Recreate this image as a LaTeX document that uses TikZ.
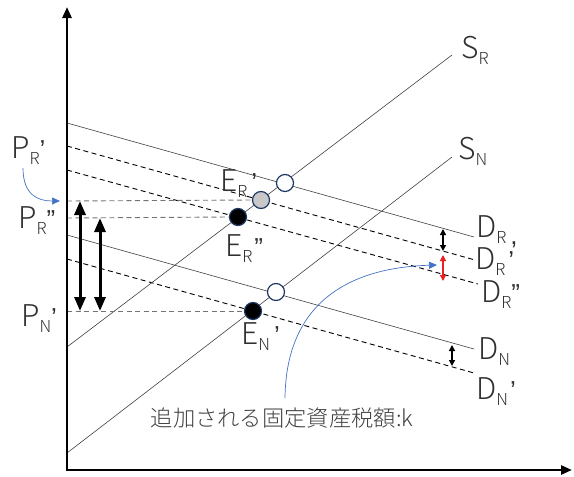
\documentclass[tikz,border=0pt]{standalone}
\usepackage{fontspec}
\usetikzlibrary{arrows.meta}
\IfFontExistsTF{Noto Sans CJK JP Light}{\setmainfont{Noto Sans CJK JP Light}}{\setmainfont{Noto Sans CJK JP}}
\newfontfamily\pf{Liberation Sans}
\definecolor{txt}{HTML}{303030}
\definecolor{navy}{HTML}{1F3864}
\definecolor{blueA}{HTML}{4472C4}
\definecolor{greyfill}{HTML}{C8C8C8}
\definecolor{redA}{HTML}{E82020}
\newcommand\lab[3]{#1\raisebox{-6.5pt}[0pt][0pt]{\fontsize{16.5}{16.5}\selectfont #2}{\pf\fontsize{26}{26}\selectfont #3}}
\tikzset{
  thinline/.style={line width=0.6pt, black!75},
  dline/.style={line width=0.9pt, black, dash pattern=on 5pt off 3.5pt},
  hline/.style={line width=0.9pt, black!55, dash pattern=on 5pt off 3.5pt},
  axisline/.style={line width=2.6pt, -{Triangle[length=11pt,width=9pt]}},
  bigdbl/.style={line width=3pt, {Triangle[length=14pt,width=11pt]}-{Triangle[length=14pt,width=11pt]}},
  smalldbl/.style={line width=1.3pt, {Triangle[length=6pt,width=6pt]}-{Triangle[length=6pt,width=6pt]}},
  bluearr/.style={blueA, line width=0.7pt, -{Triangle[length=8pt,width=7pt]}},
  lbl/.style={inner sep=0pt, anchor=base west, font=\fontsize{30}{30}\selectfont, text=txt},
  circ/.style={circle, minimum size=17pt, inner sep=0pt, draw=navy, line width=1.2pt},
}
\begin{document}
\begin{tikzpicture}[x=1pt,y=-1pt]
\useasboundingbox (0,0) rectangle (574,477);
% axes
\coordinate (O) at (67,470);
\coordinate (Ytop) at (67,7);
\coordinate (Oleft) at (65.7,470);
\coordinate (Xend) at (572,470);
% demand lines
\coordinate (DR1) at (67,123);   \coordinate (DR2) at (474,237);
\coordinate (DRp1) at (67,146);  \coordinate (DRp2) at (475,260);
\coordinate (DRq1) at (67,170);  \coordinate (DRq2) at (478,284);
\coordinate (DN1) at (67,235);   \coordinate (DN2) at (474,349);
\coordinate (DNp1) at (67,259);  \coordinate (DNp2) at (474,373);
% supply lines
\coordinate (SR1) at (67,347);   \coordinate (SR2) at (452,55);
\coordinate (SN1) at (67,453);   \coordinate (SN2) at (452,157);

\draw[thinline] (DR1) -- (DR2);
\draw[dline] (DRp1) -- (DRp2);
\draw[dline] (DRq1) -- (DRq2);
\draw[thinline] (DN1) -- (DN2);
\draw[dline] (DNp1) -- (DNp2);
\draw[thinline] (SR1) -- (SR2);
\draw[thinline] (SN1) -- (SN2);

% equilibrium points
\node[circ, fill=white] (ER) at (285,183) {};
\node[circ, fill=greyfill] (ERp) at (261,200) {};
\node[circ, fill=black] (ERq) at (238,217) {};
\node[circ, fill=white] (EN) at (276,292) {};
\node[circ, fill=black] (ENp) at (253,311) {};

% price levels
\coordinate (PRp) at (67,201);
\coordinate (PRq) at (67,218);
\coordinate (PNp) at (67,311);
\draw[hline] (PRp) -- (ERp.west);
\draw[hline] (PRq) -- (ERq.west);
\draw[hline] (PNp) -- (ENp.west);

% axes on top
\draw[axisline] (O) -- (Ytop);
\draw[axisline] (Oleft) -- (Xend);

% big arrows
\coordinate (A1t) at (80,201); \coordinate (A1b) at (80,311);
\coordinate (A2t) at (100,218); \coordinate (A2b) at (100,311);
\draw[bigdbl] (A1t) -- (A1b);
\draw[bigdbl] (A2t) -- (A2b);

% small arrows
\coordinate (k1t) at (443,229); \coordinate (k1b) at (443,251);
\coordinate (k2t) at (443,255); \coordinate (k2b) at (443,281);
\coordinate (k3t) at (452,345); \coordinate (k3b) at (452,366);
\draw[smalldbl] (k1t) -- (k1b);
\draw[smalldbl, redA] (k2t) -- (k2b);
\draw[smalldbl] (k3t) -- (k3b);

% labels
\node[lbl] (lSR) at (461,58) {\lab{S}{R}{}};
\node[lbl] (lSN) at (458,159) {\lab{S}{N}{}};
\node[lbl] (lDR) at (476,237) {\lab{D}{R}{\kern4pt\raisebox{-7pt}[0pt][0pt]{,}}};
\node[lbl] (lDRp) at (475,269) {\lab{D}{R}{\kern3pt’}};
\node[lbl] (lDRq) at (481,302) {\lab{D}{R}{”}};
\node[lbl] (lDN) at (478,359) {\lab{D}{N}{}};
\node[lbl] (lDNp) at (476,399) {\lab{D}{N}{\kern2pt’}};
\node[lbl] (lPRp) at (11,158) {\lab{P}{R}{’}};
\node[lbl] (lPRq) at (18,228) {\lab{P}{R}{”}};
\node[lbl] (lPNp) at (21,326) {\lab{P}{N}{’}};
\node[lbl] (lERp) at (220,191) {\lab{E}{R}{\kern4pt’}};
\node[lbl] (lERq) at (225,256) {\lab{E}{R}{\kern2pt”}};
\node[lbl] (lENp) at (241,344) {\lab{E}{N}{\kern4pt’}};

\node[inner sep=0pt, font=\fontsize{22.3}{22.3}\selectfont, text=black!75] (note) at (282,418) {追加される固定資産税額:k};

% blue arrows
\coordinate (b1s) at (23,168); \coordinate (b1e) at (60,201);
\draw[bluearr] (b1s) .. controls (23,195) and (38,201) .. (b1e);
\coordinate (b2s) at (285,398); \coordinate (b2e) at (437,265);
\draw[bluearr] (b2s) .. controls (286,310) and (340,268) .. (b2e);
\end{tikzpicture}
\end{document}
